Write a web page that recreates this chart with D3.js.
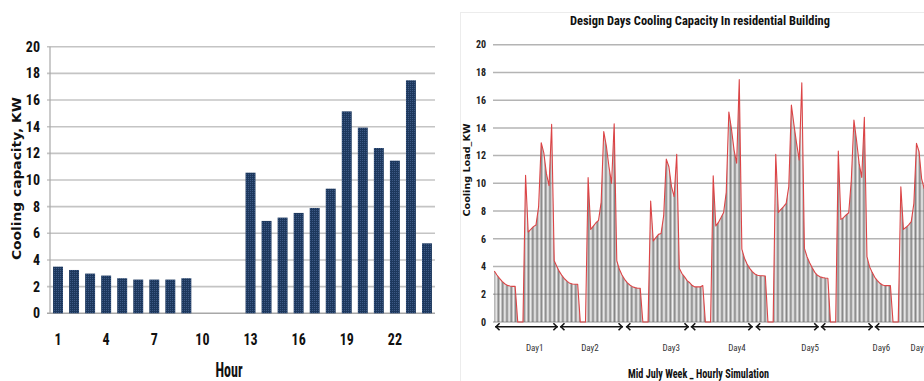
<!DOCTYPE html>
<html>
<head>
<meta charset="utf-8">
<script src="https://cdn.jsdelivr.net/npm/d3@7"></script>
<style>
  html, body { margin: 0; padding: 0; background: #fff; overflow: hidden; }
  svg { display: block; }
</style>
</head>
<body>
<script>
// ---- Design day: hourly cooling capacity (kW) ----
const hours = d3.range(1, 25);
const designDayLoad = [3.5, 3.25, 2.98, 2.83, 2.63, 2.53, 2.53, 2.53, 2.63, 0, 0, 0,
                       10.55, 6.93, 7.18, 7.53, 7.9, 9.35, 15.15, 13.93, 12.4, 11.45, 17.48, 5.25];
const hourTicks = [1, 4, 7, 10, 13, 16, 19, 22];
const capacityTicks = d3.range(0, 21, 2);

// ---- Mid July week: hourly simulated cooling load (kW), one array per day ----
const day1 = [3.68, 3.39, 3.15, 2.93, 2.76, 2.64, 2.6, 2.57, 2.57, 0, 0, 0,
              10.58, 6.49, 6.68, 6.88, 7.0, 8.3, 12.93, 12.2, 10.7, 9.83, 14.25, 4.42];
const day2 = [4.0, 3.63, 3.34, 3.1, 2.93, 2.79, 2.74, 2.72, 2.72, 0, 0, 0,
              10.41, 6.68, 6.92, 7.16, 7.33, 8.63, 13.73, 12.69, 11.2, 10.0, 14.3, 4.42];
const day3 = [3.8, 3.39, 3.08, 2.84, 2.67, 2.55, 2.48, 2.43, 2.43, 0, 0, 0,
              8.73, 5.84, 6.08, 6.32, 6.39, 7.67, 11.75, 11.2, 9.76, 9.04, 12.09, 3.87];
const day4 = designDayLoad;
const day5 = [4.6, 4.18, 3.87, 3.63, 3.46, 3.37, 3.34, 3.34, 3.32, 0, 0, 0,
              12.09, 7.91, 8.13, 8.32, 8.56, 9.76, 15.65, 14.2, 12.88, 11.68, 17.26, 5.31];
const day6 = [4.71, 4.28, 3.92, 3.58, 3.37, 3.27, 3.2, 3.17, 3.15, 0, 0, 0,
              12.33, 7.4, 7.52, 7.72, 7.88, 10.24, 14.57, 13.1, 11.44, 10.43, 14.76, 4.71];
const day7 = [3.99, 3.58, 3.22, 2.98, 2.79, 2.67, 2.62, 2.62, 2.62, 0, 0, 0,
              9.76, 6.68, 6.83, 7.0, 7.24, 8.56, 12.88, 12.28, 10.3, 9.6];
const weekDays = [day1, day2, day3, day4, day5, day6, day7];
const dayNames = ["Day1", "Day2", "Day3", "Day4", "Day5", "Day6", "Day7"];
// hour at which each day caption sits, and the hour span each day arrow covers
const dayLabelHour = [16.5, 37.7, 68.9, 94.1, 122.2, 149.5, 164.1];
const daySpans = [[1.3, 25.4], [26.2, 50.4], [51.5, 75.7], [76.4, 100.2],
                  [101.3, 125.5], [126.3, 146.3], [147.0, 172.0]];
const loadTicks = d3.range(0, 21, 2);

const NARROW = "'Liberation Sans Narrow','Roboto Condensed','Liberation Sans',Arial,sans-serif";
const WIDE = "'DejaVu Sans',Verdana,sans-serif";

const W = 924, H = 381;
const svg = d3.select("body").append("svg").attr("width", W).attr("height", H);
const defs = svg.append("defs");

// speckled navy fill for the bars
const dots = defs.append("pattern").attr("id", "navyDots")
  .attr("patternUnits", "userSpaceOnUse").attr("width", 2).attr("height", 2);
dots.append("rect").attr("width", 2).attr("height", 2).attr("fill", "#1d385d");
dots.append("rect").attr("width", 1).attr("height", 1).attr("fill", "#3d5985");

// ================= Left chart: bar chart =================
const left = { x0: 50, x1: 435, y0: 313.3, y1: 46.7 };
const xB = d3.scaleBand().domain(hours).range([left.x0, left.x1])
  .paddingInner(0.38).paddingOuter(0.19);
const yB = d3.scaleLinear().domain([0, 20]).range([left.y0, left.y1]);

const gL = svg.append("g");
// gridlines
gL.append("g").selectAll("line").data(capacityTicks.filter(d => d > 0)).join("line")
  .attr("x1", left.x0 - 3).attr("x2", left.x1)
  .attr("y1", d => yB(d)).attr("y2", d => yB(d))
  .attr("stroke", "#c4c4c4").attr("stroke-width", 1.6);
// axis lines
gL.append("line").attr("x1", left.x0).attr("x2", left.x0)
  .attr("y1", left.y1).attr("y2", left.y0).attr("stroke", "#a8a8a8").attr("stroke-width", 1.2);
gL.append("line").attr("x1", left.x0 - 3).attr("x2", left.x1)
  .attr("y1", left.y0).attr("y2", left.y0).attr("stroke", "#a8a8a8").attr("stroke-width", 1.6);

// bars
gL.append("g").selectAll("rect").data(hours.map((h, i) => ({ h, v: designDayLoad[i] })))
  .join("rect")
  .attr("x", d => xB(d.h)).attr("width", xB.bandwidth())
  .attr("y", d => yB(d.v)).attr("height", d => yB(0) - yB(d.v))
  .attr("fill", "url(#navyDots)");

// y tick labels
const yAxisL = d3.axisLeft(yB).tickValues(capacityTicks).tickSize(0).tickPadding(10);
const yAxG = gL.append("g").attr("transform", `translate(${left.x0},0)`).call(yAxisL);
yAxG.select(".domain").remove();
yAxG.selectAll("text").attr("font-family", NARROW).attr("font-weight", "bold")
  .attr("font-size", 14).attr("fill", "#111");

// x tick labels (tall narrow lettering)
gL.append("g").selectAll("text").data(hourTicks).join("text")
  .attr("transform", d => `translate(${xB(d) + xB.bandwidth() / 2},344.5) scale(1,1.2)`)
  .attr("text-anchor", "middle")
  .attr("font-family", NARROW).attr("font-weight", "bold").attr("font-size", 14)
  .attr("fill", "#111").text(d => d);

gL.append("text").attr("transform", "translate(229,377) scale(1,1.4)")
  .attr("text-anchor", "middle").attr("font-family", NARROW).attr("font-weight", "bold")
  .attr("font-size", 14).attr("fill", "#111").text("Hour");

gL.append("text").attr("transform", "translate(21,178.5) rotate(-90)")
  .attr("text-anchor", "middle").attr("font-family", WIDE).attr("font-weight", "bold")
  .attr("font-size", 12).attr("fill", "#111")
  .attr("textLength", 163).attr("lengthAdjust", "spacingAndGlyphs")
  .text("Cooling capacity, KW");

// ================= Right chart: weekly hourly area =================
const gR = svg.append("g");
gR.append("rect").attr("x", 460.5).attr("y", 12.5).attr("width", 480).attr("height", 400)
  .attr("fill", "none").attr("stroke", "#ececec").attr("stroke-width", 1);

const week = weekDays.flat().map((v, i) => ({ hour: i + 1, load: v }));
const xW = d3.scaleLinear().domain([1, 168]).range([494.3, 494.3 + 167 * 2.606]);
const yW = d3.scaleLinear().domain([0, 20]).range([322, 44.7]);

// vertical hatch (two strokes per hour) for the area fill
const step = (xW(2) - xW(1)) / 2;
const hatch = defs.append("pattern").attr("id", "hatch")
  .attr("patternUnits", "userSpaceOnUse").attr("x", xW(1))
  .attr("width", step).attr("height", 10);
hatch.append("rect").attr("width", step).attr("height", 10)
  .attr("fill", "#e4e4e4").attr("fill-opacity", 0.3);
hatch.append("line").attr("x1", 0.35).attr("x2", 0.35).attr("y1", 0).attr("y2", 10)
  .attr("stroke", "#5c5c5c").attr("stroke-width", 0.6);

// gridlines
gR.append("g").selectAll("line").data(loadTicks).join("line")
  .attr("x1", 493).attr("x2", 940)
  .attr("y1", d => yW(d)).attr("y2", d => yW(d))
  .attr("stroke", "#b4b4b4").attr("stroke-width", 1.5);

const area = d3.area().x(d => xW(d.hour)).y0(yW(0)).y1(d => yW(d.load));
gR.append("path").datum(week).attr("d", area).attr("fill", "url(#hatch)");
const line = d3.line().x(d => xW(d.hour)).y(d => yW(d.load));
gR.append("path").datum(week).attr("d", line)
  .attr("fill", "none").attr("stroke", "#dc4446").attr("stroke-width", 1.1)
  .attr("stroke-linejoin", "round");

// y tick labels
const yAxisR = d3.axisLeft(yW).tickValues(loadTicks).tickSize(0).tickPadding(7);
const yAxR = gR.append("g").attr("transform", "translate(493,0)").call(yAxisR);
yAxR.select(".domain").remove();
yAxR.selectAll("text").attr("font-family", NARROW).attr("font-weight", "bold")
  .attr("font-size", 10).attr("fill", "#222");

// day arrows
const arrowY = 326.7;
const arrows = gR.append("g").attr("stroke", "#151515").attr("stroke-width", 1.6)
  .attr("fill", "none");
daySpans.forEach(([a, b]) => {
  const xa = xW(a), xb = xW(b);
  arrows.append("line").attr("x1", xa).attr("x2", xb).attr("y1", arrowY).attr("y2", arrowY);
  arrows.append("path").attr("d", `M${xa + 4.5},${arrowY - 3.5}L${xa + 1},${arrowY}L${xa + 4.5},${arrowY + 3.5}`);
  arrows.append("path").attr("d", `M${xb - 4.5},${arrowY - 3.5}L${xb - 1},${arrowY}L${xb - 4.5},${arrowY + 3.5}`);
});

// day captions
gR.append("g").selectAll("text").data(dayNames).join("text")
  .attr("x", (d, i) => xW(dayLabelHour[i])).attr("y", 350.5)
  .attr("text-anchor", "middle").attr("font-family", NARROW)
  .attr("font-size", 9).attr("fill", "#333").text(d => d);

// titles
gR.append("text").attr("x", 700).attr("y", 24.5).attr("text-anchor", "middle")
  .attr("font-family", NARROW).attr("font-weight", "bold").attr("font-size", 13.5)
  .attr("fill", "#111").attr("textLength", 260).attr("lengthAdjust", "spacingAndGlyphs")
  .text("Design Days Cooling Capacity In residential Building");

gR.append("text").attr("x", 698.5).attr("y", 378).attr("text-anchor", "middle")
  .attr("font-family", NARROW).attr("font-weight", "bold").attr("font-size", 13)
  .attr("fill", "#111").attr("textLength", 141).attr("lengthAdjust", "spacingAndGlyphs")
  .text("Mid July Week _ Hourly Simulation");

gR.append("text").attr("transform", "translate(470,170) rotate(-90)")
  .attr("text-anchor", "middle").attr("font-family", WIDE).attr("font-weight", "bold")
  .attr("font-size", 9.5).attr("fill", "#111")
  .attr("textLength", 93).attr("lengthAdjust", "spacingAndGlyphs")
  .text("Cooling Load_KW");
</script>
</body>
</html>
